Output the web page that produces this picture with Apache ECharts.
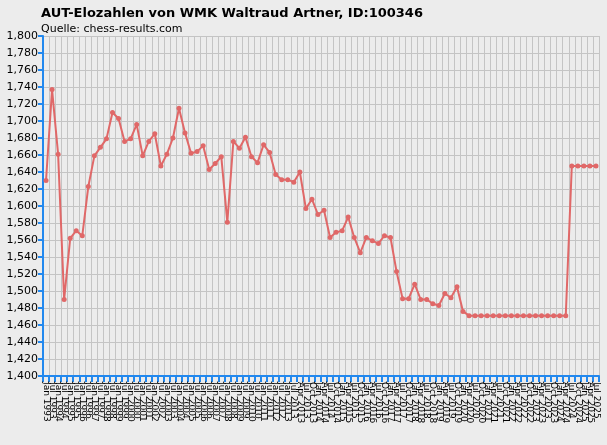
<!DOCTYPE html>
<html><head><meta charset="utf-8">
<script src="https://cdn.jsdelivr.net/npm/echarts@6/dist/echarts.min.js"></script>
<style>html,body{margin:0;padding:0;background:#ececec}#c{width:607px;height:445px}</style>
</head><body><div id="c"></div>
<script>
const categories = [
"Jan 1993","Jul 1993","Jan 1994","Jul 1994","Jan 1995","Jul 1995","Jan 1996","Jul 1996","Jan 1997","Jul 1997",
"Jan 1998","Jul 1998","Jan 1999","Jul 1999","Jan 2000","Jul 2000","Jan 2001","Jul 2001","Jan 2002","Jul 2002",
"Jan 2003","Jul 2003","Jan 2004","Jul 2004","Jan 2005","Jul 2005","Jan 2006","Jul 2006","Jan 2007","Jul 2007",
"Jan 2008","Jul 2008","Jan 2009","Jul 2009","Jan 2010","Jul 2010","Jan 2011","Jul 2011","Jan 2012","Jul 2012",
"Jan 2013","Jul 2013","Apr 2013","Jul 2013","Oct 2013","Jan 2014","Apr 2014","Jul 2014","Oct 2014","Jan 2015",
"Apr 2015","Jul 2015","Oct 2015","Jan 2016","Apr 2016","Jul 2016","Oct 2016","Jan 2017","Apr 2017","Jul 2017",
"Oct 2017","Jan 2018","Apr 2018","Jul 2018","Oct 2018","Jan 2019","Apr 2019","Jul 2019","Oct 2019","Jan 2020",
"Apr 2020","Jul 2020","Oct 2020","Jan 2021","Apr 2021","Jul 2021","Oct 2021","Jan 2022","Apr 2022","Jul 2022",
"Oct 2022","Jan 2023","Apr 2023","Jul 2023","Oct 2023","Jan 2024","Apr 2024","Jul 2024","Oct 2024","Jan 2025",
"Apr 2025","Jul 2025"];
const elo = [
1630,1737,1661,1490,1562,1571,1565,1623,1659,1669,
1679,1710,1703,1676,1679,1696,1659,1676,1685,1647,
1661,1680,1715,1686,1662,1664,1671,1643,1650,1658,
1581,1676,1668,1681,1658,1651,1672,1663,1637,1631,
1631,1628,1640,1597,1608,1590,1595,1563,1569,1571,
1587,1563,1545,1563,1559,1556,1565,1563,1523,1491,
1491,1508,1490,1490,1485,1483,1497,1492,1505,1476,
1471,1471,1471,1471,1471,1471,1471,1471,1471,1471,
1471,1471,1471,1471,1471,1471,1471,1647,1647,1647,
1647,1647];
const yMin = 1400, yMax = 1800, yStep = 20;
const chart = echarts.init(document.getElementById('c'));
chart.setOption({
  backgroundColor:'#ececec',
  animation:false,
  title:{text:'AUT-Elozahlen von WMK Waltraud Artner, ID:100346',left:36,top:2,
    textStyle:{fontFamily:'DejaVu Sans',fontSize:13,fontWeight:'bold',color:'#000'},
    subtext:'Quelle: chess-results.com',itemGap:4,
    subtextStyle:{fontFamily:'DejaVu Sans',fontSize:11,color:'#000'}},
  grid:{left:43,right:8,top:36,bottom:69,show:true,backgroundColor:'#ececec',borderWidth:0},
  xAxis:{type:'category',data:categories,boundaryGap:true,
    axisLine:{lineStyle:{color:'#2288ee',width:2}},
    axisTick:{show:true,interval:0,length:6,lineStyle:{color:'#2288ee',width:2}},
    axisLabel:{interval:0,rotate:-90,fontSize:9,color:'#000',fontFamily:'DejaVu Sans',margin:6},
    splitLine:{show:true,interval:0,lineStyle:{color:'#c4c4c4',width:1}}},
  yAxis:{type:'value',min:yMin,max:yMax,interval:yStep,
    axisLine:{show:true,lineStyle:{color:'#2288ee',width:2}},
    axisTick:{show:true,length:5,lineStyle:{color:'#2288ee',width:2}},
    axisLabel:{fontSize:11,color:'#000',fontFamily:'DejaVu Sans',margin:5},
    splitLine:{lineStyle:{color:'#c4c4c4',width:1}}},
  series:[{type:'line',data:elo,symbol:'circle',symbolSize:5,
    lineStyle:{color:'#e06868',width:2},itemStyle:{color:'#e06868'}}]
});
</script></body></html>
